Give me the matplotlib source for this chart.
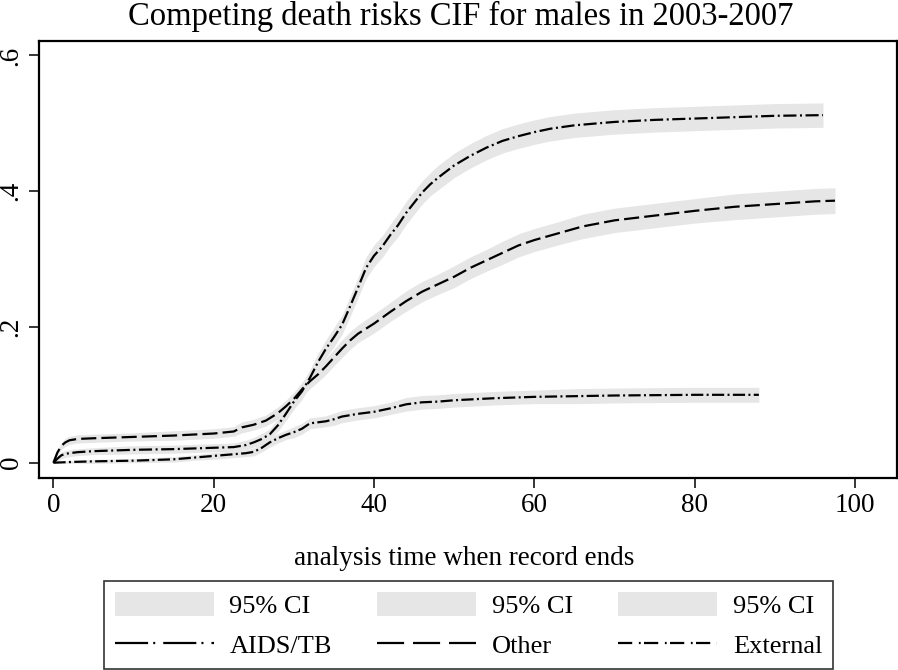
import matplotlib
matplotlib.use("Agg")
import matplotlib.pyplot as plt
import numpy as np
from matplotlib.patches import Patch
from matplotlib.lines import Line2D

plt.rcParams['font.family'] = ['Liberation Serif', 'DejaVu Serif']

title = "Competing death risks CIF for males in 2003-2007"
xlabel = "analysis time when record ends"
xticks = [0, 20, 40, 60, 80, 100]
yticks = [0, 0.2, 0.4, 0.6]
ytick_labels = ["0", ".2", ".4", ".6"]

# AIDS/TB
aids_t = [0, 0.5, 1, 1.5, 2, 3, 5, 10, 15, 20, 22.5, 24, 25, 26, 27, 28, 29, 30, 31, 32,
          33, 34, 35, 36, 37, 38, 39, 40, 41, 42, 43, 44, 45, 46, 47, 48, 50, 52, 54, 56,
          58, 60, 62, 65, 70, 75, 80, 85, 90, 96]
aids_cif = [0, 0.006, 0.011, 0.013, 0.014, 0.0155, 0.017, 0.019, 0.020, 0.022,
            0.023, 0.026, 0.030, 0.035, 0.042, 0.055, 0.072, 0.09, 0.105, 0.125,
            0.148, 0.168, 0.185, 0.203, 0.23, 0.258, 0.287, 0.305, 0.318, 0.335,
            0.35, 0.368, 0.383, 0.398, 0.41, 0.42, 0.438, 0.452, 0.464, 0.474,
            0.481, 0.487, 0.492, 0.497, 0.502, 0.505, 0.507, 0.509, 0.511, 0.512]
aids_ci = [0.002, 0.004, 0.005, 0.005, 0.005, 0.005, 0.005, 0.006, 0.006, 0.006,
           0.006, 0.007, 0.007, 0.008, 0.008, 0.009, 0.010, 0.011, 0.012, 0.012,
           0.013, 0.013, 0.014, 0.014, 0.015, 0.015, 0.016, 0.016, 0.016, 0.016,
           0.017, 0.017, 0.017, 0.017, 0.017, 0.018, 0.018, 0.018, 0.018, 0.018,
           0.018, 0.018, 0.018, 0.018, 0.018, 0.018, 0.018, 0.018, 0.018, 0.018]

# Other
other_t = [0, 0.5, 1, 1.5, 2, 3, 5, 10, 15, 20, 22.5, 23.5, 25, 26.5, 28, 29, 30, 31, 32, 33,
           34, 35, 36, 37, 38, 40, 42, 44, 46, 48, 50, 52, 54, 56, 58, 60, 63, 66, 70, 75,
           80, 85, 90, 95, 97.5]
other_cif = [0, 0.015, 0.025, 0.030, 0.033, 0.035, 0.036, 0.038, 0.040, 0.043,
             0.046, 0.052, 0.056, 0.062, 0.073, 0.083, 0.094, 0.108, 0.12, 0.13,
             0.142, 0.155, 0.168, 0.18, 0.19, 0.205, 0.222, 0.238, 0.252, 0.263,
             0.274, 0.287, 0.298, 0.309, 0.32, 0.328, 0.338, 0.348, 0.357, 0.364,
             0.371, 0.377, 0.381, 0.385, 0.386]
other_ci = [0.002, 0.004, 0.005, 0.006, 0.006, 0.006, 0.006, 0.006, 0.007, 0.007,
            0.007, 0.008, 0.008, 0.008, 0.009, 0.009, 0.010, 0.010, 0.011, 0.011,
            0.012, 0.012, 0.013, 0.013, 0.013, 0.014, 0.014, 0.015, 0.015, 0.015,
            0.016, 0.016, 0.016, 0.017, 0.017, 0.017, 0.017, 0.018, 0.018, 0.018,
            0.018, 0.019, 0.019, 0.019, 0.019]

# External
ext_t = [0, 2, 5, 10, 15, 18, 20, 22, 24, 25, 26, 27, 28, 29, 30, 31, 32, 34, 35, 36,
         38, 40, 42, 44, 46, 48, 50, 55, 60, 65, 70, 75, 80, 85, 88]
ext_cif = [0, 0.001, 0.002, 0.003, 0.005, 0.008, 0.010, 0.012, 0.014, 0.016,
           0.022, 0.03, 0.036, 0.041, 0.045, 0.05, 0.058, 0.061, 0.064, 0.068,
           0.072, 0.075, 0.08, 0.086, 0.089, 0.09, 0.092, 0.095, 0.097, 0.098,
           0.099, 0.0995, 0.1, 0.1, 0.1]
ext_ci = [0.001, 0.002, 0.003, 0.003, 0.004, 0.004, 0.005, 0.005, 0.005, 0.006,
          0.006, 0.007, 0.007, 0.007, 0.008, 0.008, 0.008, 0.008, 0.009, 0.009,
          0.009, 0.009, 0.009, 0.010, 0.010, 0.010, 0.010, 0.010, 0.010, 0.011,
          0.011, 0.011, 0.011, 0.011, 0.011]

band_color = '#e6e6e6'
lw = 1.6
# dash patterns as drawn along the curves
plot_styles = {
    'AIDS/TB': (0, (5.9, 1.6, 0.9, 1.6)),
    'Other': (0, (6.8, 2.3)),
    'External': (0, (5.5, 1.5, 0.9, 1.5)),
}
# dash patterns as shown in the legend keys
key_styles = {
    'AIDS/TB': (0, (14.9, 2.3, 0.9, 3.6)),
    'Other': (0, (12.2, 4.0)),
    'External': (0, (6.4, 3.0, 0.8, 1.5)),
}

fig = plt.figure(figsize=(8.98, 6.7), dpi=100)
ax = fig.add_axes([0.0434, 0.2866, 0.9552, 0.652])

series = [('AIDS/TB', aids_t, aids_cif, aids_ci),
          ('Other', other_t, other_cif, other_ci),
          ('External', ext_t, ext_cif, ext_ci)]

for name, t, y, ci in series:
    y = np.array(y)
    ci = np.array(ci)
    ax.fill_between(t, y - ci, y + ci, color=band_color, lw=0)

for name, t, y, ci in series:
    ax.plot(t, y, color='black', lw=lw, linestyle=plot_styles[name])

ax.set_xlim(-1.8, 105.2)
ax.set_ylim(-0.0225, 0.621)
ax.set_xticks(xticks)
ax.set_yticks(yticks)
ax.set_yticklabels(ytick_labels, rotation=90, va='center')
ax.tick_params(axis='both', labelsize=19.5, length=7, width=1.1, direction='out')
ax.tick_params(axis='x', pad=4)
ax.tick_params(axis='y', pad=4)
for s in ax.spines.values():
    s.set_linewidth(1.6)

ax.set_xlabel(xlabel, fontsize=19.5)
ax.xaxis.set_label_coords(0.4955, -0.155)

fig.text(0.513, 1 - 25 / 670, title, ha='center', va='baseline', fontsize=23.5)

handles = []
labels = []
for name, t, y, ci in series:
    handles.append(Patch(facecolor=band_color, edgecolor='none'))
    labels.append("95% CI")
    handles.append(Line2D([], [], color='black', lw=lw, linestyle=key_styles[name]))
    labels.append(name)

leg = fig.legend(handles, labels, ncol=3, loc='center', mode='expand',
                 bbox_to_anchor=(0.1158, 0.006, 0.8118, 0.122),
                 fontsize=19, frameon=True, fancybox=False, edgecolor='black',
                 handlelength=3.75, handleheight=1.0, handletextpad=0.6,
                 borderpad=0.4, labelspacing=0.55, borderaxespad=0)
leg.get_frame().set_linewidth(1.2)

fig.savefig('out.png', dpi=100)
